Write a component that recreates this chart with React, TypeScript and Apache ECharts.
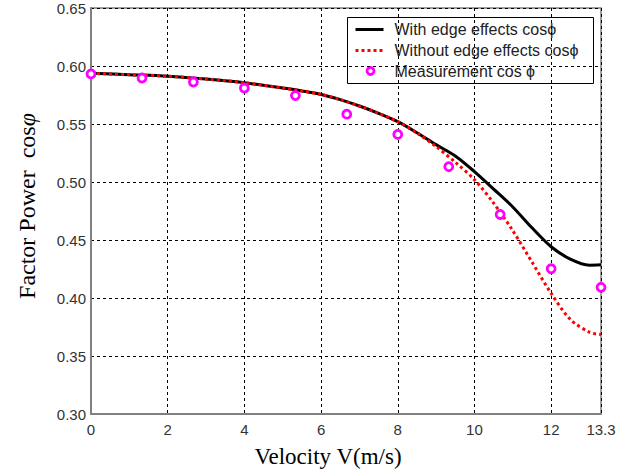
import React, { useEffect, useRef } from "react";
import * as echarts from "echarts";

const curveVelocity = [0, 1, 2, 3, 4, 5, 5.5, 6, 6.5, 7, 7.5, 8, 8.5, 9, 9.5, 10, 10.5, 11, 11.5, 12, 12.5, 13, 13.3];
const withEdge = [0.5937, 0.5925, 0.5912, 0.5888, 0.5856, 0.581, 0.5785, 0.5755, 0.571, 0.5655, 0.5592, 0.552, 0.5425, 0.5322, 0.5225, 0.509, 0.4939, 0.4785, 0.4605, 0.4442, 0.4335, 0.4283, 0.4286];
const withoutEdge = [0.5937, 0.5925, 0.5912, 0.5888, 0.5856, 0.581, 0.5785, 0.5755, 0.571, 0.5655, 0.5592, 0.552, 0.5422, 0.5305, 0.517, 0.502, 0.4818, 0.458, 0.431, 0.404, 0.3815, 0.3705, 0.3685];
const measVelocity = [0, 1.33, 2.67, 4, 5.33, 6.67, 8, 9.33, 10.67, 12, 13.3];
const measurement = [0.5932, 0.5896, 0.5862, 0.581, 0.5745, 0.5585, 0.541, 0.5132, 0.472, 0.4252, 0.4092];
const legendLabels = ["With edge effects cos\u03D5", "Without edge effects cos\u03D5", "Measurement cos \u03D5"];

const pair = (xs: number[], ys: number[]) => xs.map((x, i) => [x, ys[i]]);

export default function App() {
  const ref = useRef<HTMLDivElement>(null);
  useEffect(() => {
    if (!ref.current) return;
    const chart = echarts.init(ref.current, null, { renderer: "svg" });
    const labelFont = "Arial, Liberation Sans, sans-serif";
    const serif = "Times New Roman, Liberation Serif, serif";
    const legendText = (i: number, y: number) => ({
      type: "text",
      x: 47,
      y,
      style: { text: legendLabels[i], fontSize: 16, fontFamily: labelFont, fill: "#222", verticalAlign: "middle" },
    });
    chart.setOption({
      animation: false,
      backgroundColor: "#ffffff",
      grid: {
        left: 91,
        right: 42,
        top: 8,
        bottom: 62,
        show: true,
        borderColor: "#808080",
        borderWidth: 1.5,
        backgroundColor: "#ffffff",
      },
      xAxis: {
        type: "value",
        min: 0,
        max: 13.3,
        interval: 2,
        axisLine: { show: true, lineStyle: { color: "#808080", width: 2 } },
        axisTick: { show: false },
        axisLabel: {
          color: "#333",
          fontSize: 15,
          fontFamily: labelFont,
          margin: 8,
          showMaxLabel: true,
          formatter: (v: number) => String(v),
        },
        splitLine: { show: true, lineStyle: { color: "#000", width: 1, type: [3, 3] } },
      },
      yAxis: {
        type: "value",
        min: 0.3,
        max: 0.65,
        interval: 0.05,
        axisLine: { show: true, lineStyle: { color: "#808080", width: 2 } },
        axisTick: { show: false },
        axisLabel: {
          color: "#333",
          fontSize: 15,
          fontFamily: labelFont,
          margin: 5,
          formatter: (v: number) => v.toFixed(2),
        },
        splitLine: { show: true, lineStyle: { color: "#000", width: 1, type: [3, 3] } },
      },
      series: [
        {
          name: legendLabels[0],
          type: "line",
          data: pair(curveVelocity, withEdge),
          smooth: 0.3,
          symbol: "none",
          lineStyle: { color: "#000", width: 3 },
          z: 2,
        },
        {
          name: legendLabels[1],
          type: "line",
          data: pair(curveVelocity, withoutEdge),
          smooth: 0.3,
          symbol: "none",
          lineStyle: { color: "#ff0000", width: 3, type: [3, 3] },
          z: 3,
        },
        {
          name: legendLabels[2],
          type: "scatter",
          data: pair(measVelocity, measurement),
          symbol: "circle",
          symbolSize: 8,
          itemStyle: { color: "#ffffff", borderColor: "#ff00ff", borderWidth: 2.8, opacity: 1 },
          z: 4,
        },
      ],
      graphic: [
        {
          type: "group",
          left: 347,
          top: 17,
          z: 100,
          children: [
            { type: "rect", shape: { x: 0, y: 0, width: 246, height: 66 }, style: { fill: "#fff", stroke: "#000", lineWidth: 1 } },
            { type: "line", shape: { x1: 8, y1: 12, x2: 36, y2: 12 }, style: { stroke: "#000", lineWidth: 3 } },
            { type: "line", shape: { x1: 8, y1: 33, x2: 36, y2: 33 }, style: { stroke: "#ff0000", lineWidth: 3, lineDash: [3, 3] } },
            { type: "circle", shape: { cx: 23, cy: 53.5, r: 3.5 }, style: { fill: "#fff", stroke: "#ff00ff", lineWidth: 2.8 } },
            legendText(0, 12),
            legendText(1, 33),
            legendText(2, 53.5),
          ],
        },
        {
          type: "text",
          x: 328,
          y: 456,
          z: 100,
          style: {
            text: "Velocity V(m/s)",
            fontSize: 23,
            fontFamily: serif,
            fill: "#000",
            align: "center",
            verticalAlign: "middle",
          },
        },
        {
          type: "text",
          x: 27,
          y: 206,
          rotation: Math.PI / 2,
          z: 100,
          style: {
            text: "{a|Factor Power  cos}{b|\u03C6}",
            align: "center",
            verticalAlign: "middle",
            rich: {
              a: { fontFamily: serif, fontSize: 24, color: "#000" },
              b: { fontFamily: serif, fontSize: 24, fontStyle: "italic", color: "#000" },
            },
          },
        },
      ],
    });
    return () => chart.dispose();
  }, []);
  return <div ref={ref} style={{ position: "absolute", left: 0, top: 0, width: 643, height: 476 }} />;
}
